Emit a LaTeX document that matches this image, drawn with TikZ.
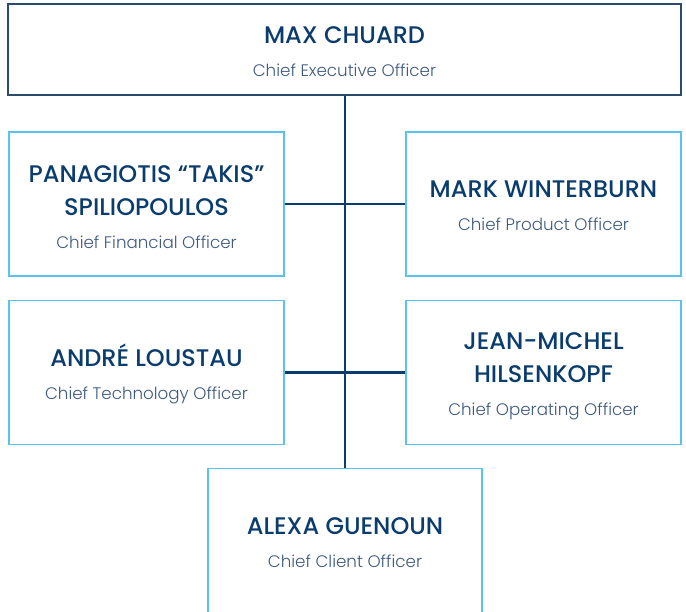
\documentclass[tikz,border=0pt]{standalone}
\usepackage{fontspec}
\setmainfont{Poppins}
\newfontfamily\namefont{Poppins Medium}
\newfontfamily\subfont{Poppins Light}
\definecolor{navy}{HTML}{0B3C6E}
\definecolor{topbd}{HTML}{2C4B6C}
\definecolor{lightbd}{HTML}{5BC2EE}
\definecolor{subc}{HTML}{3F5B80}
\newcommand{\nm}{\fontsize{24}{33}\selectfont\namefont\color{navy}}
\newcommand{\tl}{\fontsize{16.7}{33}\selectfont\subfont\color{subc}}
\begin{document}
\begin{tikzpicture}[x=1pt,y=-1pt,
  boxbase/.style={draw, fill=white, inner sep=0pt, line width=1.2pt},
  topbox/.style={boxbase, draw=topbd, minimum width=673, minimum height=91},
  subbox/.style={boxbase, draw=lightbd, minimum width=275, minimum height=144},
  txt/.style={align=center, inner sep=0pt, font=\fontsize{16.7}{33}\selectfont},
  wire/.style={draw=navy, line width=2.6pt}]
\useasboundingbox (0,0) rectangle (686,611);
\clip (0,0) rectangle (686,611);
\coordinate (spine) at (345,95);
\node[topbox] (ceo) at (344.5,49.5) {};
\node[subbox] (cfo) at (146.5,204) {};
\node[subbox] (cpo) at (543.5,204) {};
\node[subbox] (cto) at (146.5,372.5) {};
\node[subbox] (coo) at (543.5,372.5) {};
\node[subbox, minimum width=274, minimum height=148] (cco) at (345,542.5) {};
\node[txt] (ceo-t) at ([yshift=-2pt]ceo.center) {\nm MAX CHUARD\\\tl Chief Executive Officer};
\node[txt] (cfo-t) at ([yshift=-3.5pt]cfo.center) {\nm PANAGIOTIS “TAKIS”\\\nm SPILIOPOULOS\\\tl Chief Financial Officer};
\node[txt] (cpo-t) at ([yshift=-2pt]cpo.center) {\nm MARK WINTERBURN\\\tl Chief Product Officer};
\node[txt] (cto-t) at ([yshift=-1pt]cto.center) {\nm ANDRÉ LOUSTAU\\\tl Chief Technology Officer};
\node[txt] (coo-t) at ([yshift=-4pt]coo.center) {\nm JEAN-MICHEL\\\nm HILSENKOPF\\\tl Chief Operating Officer};
\node[txt] (cco-t) at (cco.center) {\nm ALEXA GUENOUN\\\tl Chief Client Officer};
\draw[wire] (ceo.south -| spine) -- (cco.north -| spine);
\draw[wire] (cfo.east) -- (cpo.west);
\draw[wire] (cto.east) -- (coo.west);
\end{tikzpicture}
\end{document}
